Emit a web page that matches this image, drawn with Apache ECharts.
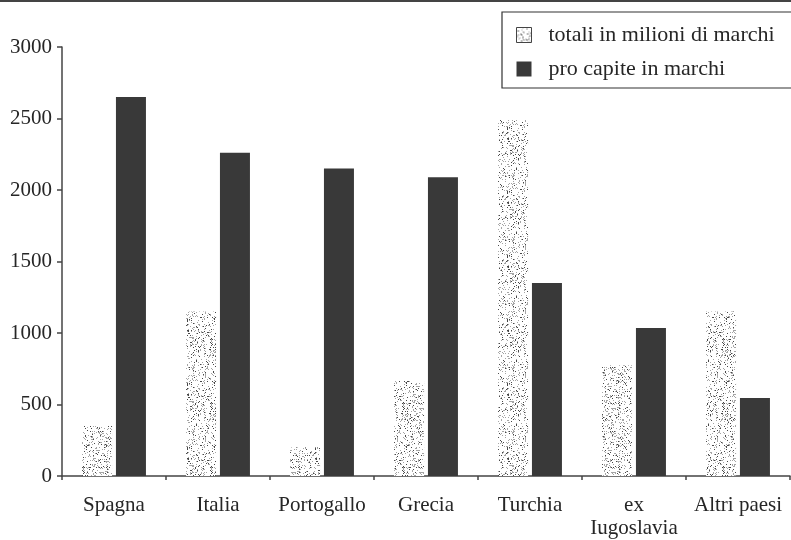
<!DOCTYPE html>
<html>
<head>
<meta charset="utf-8">
<script src="https://cdn.jsdelivr.net/npm/echarts@6/dist/echarts.min.js"></script>
<style>
  html, body { margin: 0; padding: 0; background: #fff; }
  #chart { width: 791px; height: 540px; }
</style>
</head>
<body>
<div id="chart"></div>
<script>
// Rimesse degli emigrati per paese d'origine
const categories = ['Spagna', 'Italia', 'Portogallo', 'Grecia', 'Turchia', 'ex\nIugoslavia', 'Altri paesi'];
const totaliMilioni = [350, 1150, 200, 665, 2490, 775, 1150];
const proCapite = [2650, 2260, 2150, 2090, 1350, 1035, 545];
const yTicks = { min: 0, max: 3000, interval: 500 };

const serif = '"Liberation Serif", "DejaVu Serif", serif';
const ink = '#262626';
const dark = '#393939';

// Stippled fill: scattered grey and dark specks on white, repeated as a tile
function makeStipple() {
  const size = 64;
  const c = document.createElement('canvas');
  c.width = size; c.height = size;
  const ctx = c.getContext('2d');
  ctx.fillStyle = '#ffffff';
  ctx.fillRect(0, 0, size, size);
  let s = 12345;
  const rnd = () => { s = (s * 1103515245 + 12345) & 0x7fffffff; return s / 0x7fffffff; };
  for (let y = 0; y < size; y++) {
    for (let x = 0; x < size; x++) {
      const r = rnd();
      if (r < 0.18) {
        ctx.fillStyle = r < 0.05 ? '#474747' : '#a5a5a5';
        ctx.fillRect(x, y, 1, 1);
      }
    }
  }
  return c;
}
const stipple = { image: makeStipple(), repeat: 'repeat' };

const chart = echarts.init(document.getElementById('chart'), null, { renderer: 'canvas' });
chart.setOption({
  animation: false,
  backgroundColor: '#ffffff',
  textStyle: { fontFamily: serif, color: ink },
  grid: { left: 62, right: 1, top: 47, bottom: 64, containLabel: false },
  legend: {
    orient: 'vertical',
    left: 502,
    top: 12,
    padding: [12, 60, 8, 14],
    itemWidth: 15,
    itemHeight: 15,
    itemGap: 12,
    borderColor: '#333',
    borderWidth: 1.2,
    textStyle: { fontFamily: serif, fontSize: 22, color: ink, padding: [0, 0, 0, 12] },
    data: [
      { name: 'totali in milioni di marchi', icon: 'rect',
        itemStyle: { color: stipple, borderColor: '#444', borderWidth: 1 } },
      { name: 'pro capite in marchi', icon: 'rect' }
    ]
  },
  xAxis: {
    type: 'category',
    data: categories,
    axisLine: { lineStyle: { color: '#444', width: 1.5 } },
    axisTick: { show: true, length: 4, lineStyle: { color: '#444', width: 1.5 } },
    axisLabel: { fontFamily: serif, fontSize: 21, color: ink, margin: 18, lineHeight: 23, interval: 0 }
  },
  yAxis: {
    type: 'value',
    min: yTicks.min,
    max: yTicks.max,
    interval: yTicks.interval,
    splitLine: { show: false },
    axisLine: { show: true, lineStyle: { color: '#444', width: 1.5 } },
    axisTick: { show: true, length: 5, lineStyle: { color: '#444', width: 1.5 } },
    axisLabel: { fontFamily: serif, fontSize: 21, color: ink, margin: 10, formatter: v => String(v) }
  },
  series: [
    {
      name: 'totali in milioni di marchi',
      type: 'bar',
      data: totaliMilioni,
      barWidth: 30,
      barGap: '13%',
      itemStyle: { color: stipple }
    },
    {
      name: 'pro capite in marchi',
      type: 'bar',
      data: proCapite,
      barWidth: 30,
      itemStyle: { color: dark }
    }
  ],
  graphic: [
    { type: 'line', shape: { x1: 0, y1: 1, x2: 791, y2: 1 },
      style: { stroke: '#444', lineWidth: 2 } }
  ]
});
</script>
</body>
</html>
